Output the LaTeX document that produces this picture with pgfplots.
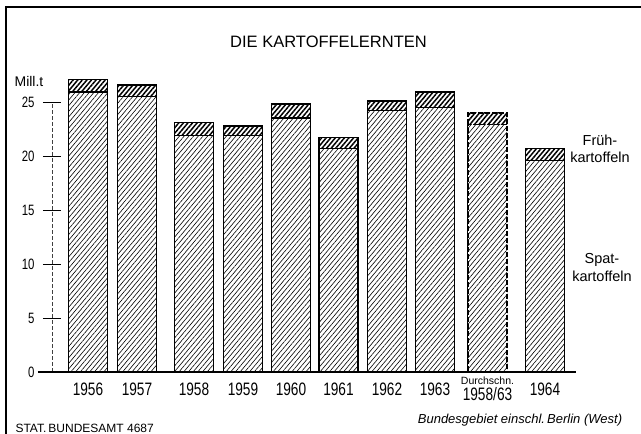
\documentclass[border=0pt]{standalone}
\usepackage{pgfplots}
\pgfplotsset{compat=1.18}
\usetikzlibrary{patterns.meta}
\usepackage{fontspec}
\setmainfont{Liberation Sans}
\newfontfamily\cond{Liberation Sans}[FakeStretch=0.76]

\pgfplotstableread{
x spat total
36 25.9 27.1
85 25.5 26.6
142 21.9 23.1
191 21.9 22.8
239 23.5 24.8
286.5 20.7 21.7
335 24.2 25.1
383 24.5 25.9
493 19.6 20.7
}\years
\pgfplotstableread{
x spat total
435.5 22.9 24.0
}\avg

\begin{document}
\begin{tikzpicture}
\path[use as bounding box] (-52pt,-62pt) rectangle (589pt,372pt);
\begin{axis}[
  at={(0,0)}, anchor=south west,
  scale only axis, width=524pt, height=270pt,
  xmin=0, xmax=524, ymin=0, ymax=25,
  clip=false,
  axis x line*=bottom, axis y line*=left, separate axis lines,
  x axis line style={draw=none},
  y axis line style={dash pattern=on 4pt off 2pt, line width=0.5pt, black!75},
  ybar, bar shift=0pt, bar width=39,
  ytick={0,5,10,15,20,25}, yticklabels={0,5,10,15,20,25},
  ytick style={line width=0.6pt, black},
  major tick length=18pt, tick align=center,
  yticklabel style={font=\cond\fontsize{15}{15}\selectfont, anchor=east, xshift=-5pt},
  xtick={36,85,142,191,239,286.5,335,383,435.5,493},
  xticklabels={1956,1957,1958,1959,1960,1961,1962,1963,{{\rmfamily\fontsize{10.5}{12}\selectfont Durchschn.}\\[1pt]1958/63},1964},
  x tick style={draw=none},
  xticklabel style={font=\cond\fontsize{18}{15}\selectfont, anchor=center, align=center, yshift=-8pt},
  spat/.style={draw=black, line width=1.6pt, preaction={fill=white}, pattern={Lines[angle=50,distance=3.6pt,line width=0.6pt]}},
  frueh/.style={draw=black, line width=1.6pt, preaction={fill=white}, pattern={Lines[angle=50,distance=3.5pt,line width=1.5pt]}},
]
\addplot[frueh] table[x=x,y=total]{\years};
\addplot[spat] table[x=x,y=spat]{\years};
\addplot[frueh, dash pattern=on 5pt off 2pt] table[x=x,y=total]{\avg};
\addplot[spat, dash pattern=on 5pt off 2pt] table[x=x,y=spat]{\avg};
\draw[line width=2.2pt] (axis cs:-14,0) -- (axis cs:524,0);
\end{axis}
\begin{scope}[x=1pt,y=-1pt,xshift=-52pt,yshift=372pt]
\draw[line width=1.2pt] (6,434) -- (6,7) -- (641,7);
\node[font=\fontsize{16.5}{18}\selectfont] at (328.5,42) {DIE KARTOFFELERNTEN};
\node[font=\fontsize{14}{16}\selectfont] at (29,81) {Mill.t};
\node[align=center, font=\fontsize{14.5}{17}\selectfont] at (600,148.5) {Früh-\\kartoffeln};
\node[align=center, font=\fontsize{14.5}{18}\selectfont] at (602,268) {Spat-\\kartoffeln};
\node[anchor=west, font=\fontsize{12}{14}\selectfont] at (12,428) {STAT.\,BUNDESAMT 4687};
\node[font=\itshape\fontsize{13}{15}\selectfont] at (520,420) {Bundesgebiet einschl.\,Berlin (West)};
\end{scope}
\end{tikzpicture}
\end{document}
